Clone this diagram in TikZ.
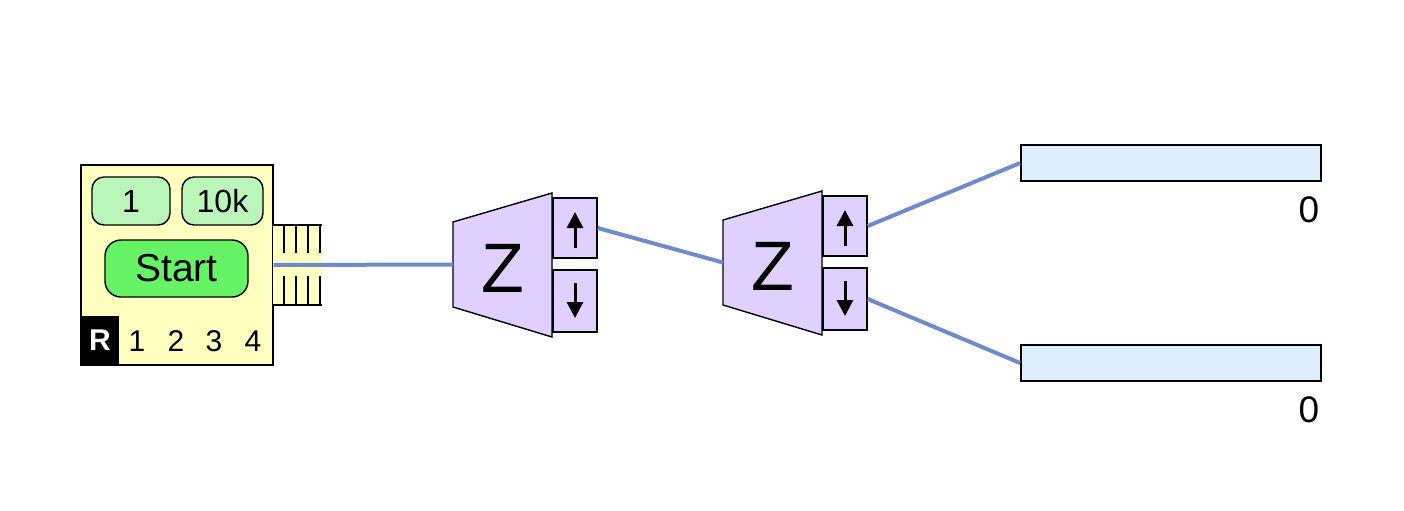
\documentclass[tikz,border=0pt]{standalone}
\usepackage{fontspec}
\setmainfont{Liberation Sans}
\usetikzlibrary{arrows.meta,positioning,calc}
\definecolor{panelyellow}{RGB}{255,255,192}
\definecolor{btngreen}{RGB}{186,246,186}
\definecolor{startgreen}{RGB}{102,244,102}
\definecolor{zpurple}{RGB}{224,208,255}
\definecolor{barblue}{RGB}{221,238,255}
\definecolor{wireblue}{RGB}{110,140,204}
\tikzstyle{panel} = [rectangle, draw, fill=panelyellow,
    minimum width=96pt, minimum height=100pt, inner sep=0pt]
\tikzstyle{btn} = [rectangle, draw, fill=btngreen, rounded corners=6pt,
    minimum height=24pt, inner sep=0pt, font=\fontsize{16}{19}\selectfont]
\tikzstyle{startbtn} = [rectangle, draw, fill=startgreen, rounded corners=8pt,
    minimum width=71.5pt, minimum height=28.5pt, inner sep=0pt,
    font=\fontsize{19.5}{23}\selectfont]
\tikzstyle{rbox} = [rectangle, fill=black, text=white, minimum width=19pt,
    minimum height=24.5pt, inner sep=0pt, font=\fontsize{15}{18}\selectfont\bfseries]
\tikzstyle{digit} = [inner sep=0pt, font=\fontsize{15}{18}\selectfont]
\tikzstyle{port} = [rectangle, draw, fill=zpurple, minimum width=22pt,
    minimum height=30pt, inner sep=0pt]
\tikzstyle{zlabel} = [inner sep=0pt, font=\fontsize{35}{40}\selectfont]
\tikzstyle{dirarrow} = [-{Triangle[width=8pt,length=8pt]}, line width=1.5pt]
\tikzstyle{bar} = [rectangle, draw, fill=barblue, line width=0.9pt,
    minimum width=150pt, minimum height=18pt, inner sep=0pt]
\tikzstyle{count} = [inner sep=0pt, font=\fontsize{18.5}{22}\selectfont]
\tikzstyle{wire} = [draw=wireblue, line width=2pt]

\begin{document}
\begin{tikzpicture}[x=0.5pt,y=-0.5pt,line width=0.7pt]
  \useasboundingbox (0,0) rectangle (1404,510);

  % control panel
  \node[panel] (panel) at (177,265) {};
  \node[btn, minimum width=39pt] (n1) at (131,201) {1};
  \node[btn, minimum width=40.5pt] (n10k) at (222.5,201) {10k};
  \node[startbtn] (start) at (176.5,268.5) {Start};
  \node[rbox] (rst) at (100,340.5) {R};
  \foreach \i/\x in {1/137,2/176,3/214,4/253}
    \node[digit] (d\i) at (\x,341) {\i};

  % output comb
  \fill[panelyellow] (273,225) rectangle (322,305);
  \draw (273,225) -- (322,225) (273,305) -- (322,305);
  \foreach \x in {284,296,308,320}
    \draw (\x,225) -- (\x,253) (\x,276) -- (\x,305);

  % two Z blocks
  \foreach \k/\dx/\dy in {1/0/0,2/270/-2} {
    \begin{scope}[shift={(\dx,\dy)}]
      \draw[fill=zpurple] (453,222) -- (552,193) -- (552,337) -- (453,307) -- cycle;
      \node[zlabel] (z\k) at (503,268) {Z};
      \coordinate (in\k) at (453,264.5);
      \node[port] (up\k) at (575,228) {};
      \node[port, minimum height=31pt] (dn\k) at (575,301) {};
      \draw[dirarrow] ([yshift=-10pt]up\k.center) -- ([yshift=8pt]up\k.center);
      \draw[dirarrow] ([yshift=9pt]dn\k.center) -- ([yshift=-8.5pt]dn\k.center);
    \end{scope}
  }

  % displays
  \node[bar] (bar1) at (1171,163) {};
  \node[bar] (bar2) at (1171,363) {};
  \node[count] (c1) at (1309,210) {0};
  \node[count] (c2) at (1309,410) {0};

  \draw[wire] (panel.east) -- (in1);
  \draw[wire] (up1.east) -- (in2);
  \draw[wire] (up2.east) -- (bar1.west);
  \draw[wire] (dn2.east) -- (bar2.west);
\end{tikzpicture}
\end{document}
